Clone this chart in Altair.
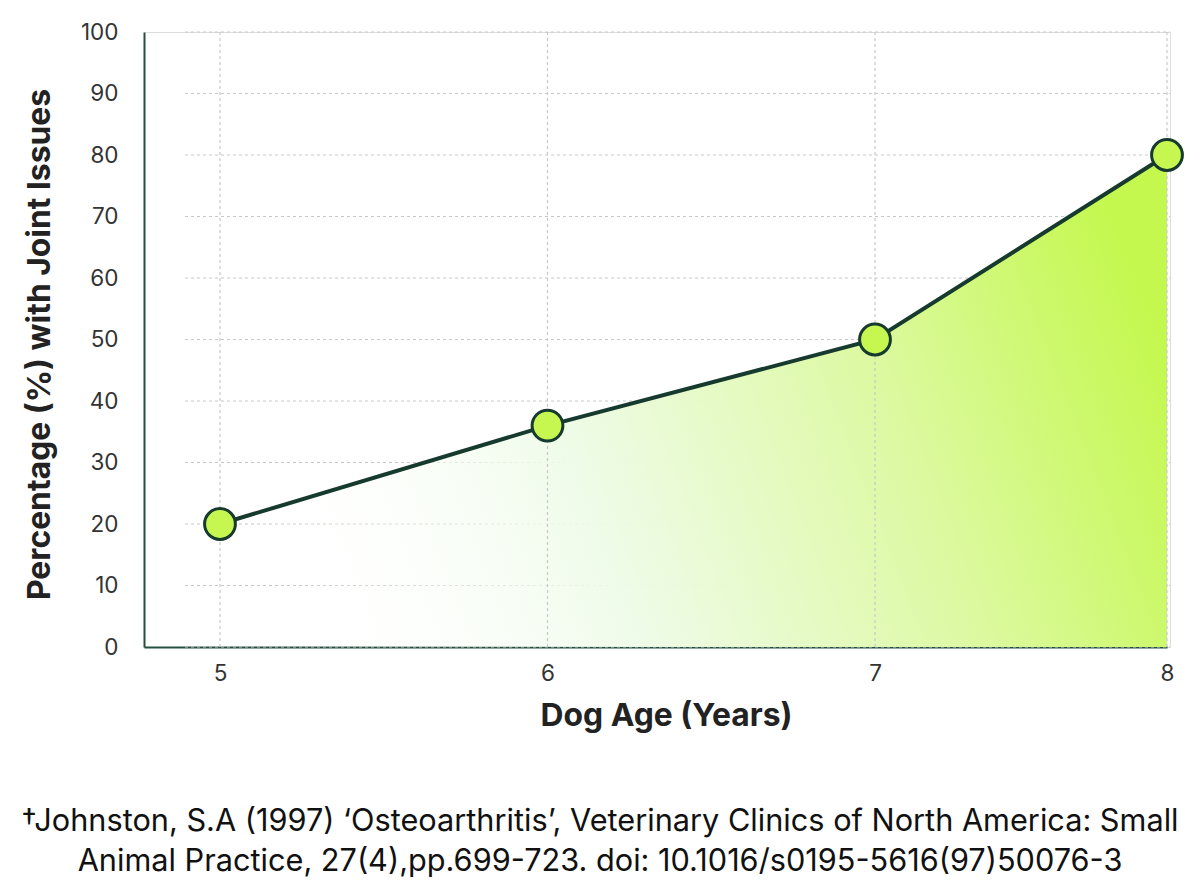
import altair as alt
import pandas as pd

ages = [5, 6, 7, 8]
pct = [20, 36, 50, 80]
y_ticks = [0, 10, 20, 30, 40, 50, 60, 70, 80, 90, 100]
footnote = [
    "\u2020Johnston, S.A (1997) \u2018Osteoarthritis\u2019, Veterinary Clinics of North America: Small",
    "Animal Practice, 27(4),pp.699-723. doi: 10.1016/s0195-5616(97)50076-3",
]

df = pd.DataFrame({"age": ages, "pct": pct})
grid_df = pd.DataFrame({"v": y_ticks})
vgrid_df = pd.DataFrame({"age": ages})

W, H = 1026, 615
FONT = "Inter"

xscale = alt.Scale(domain=[4.768, 7, 8], range=[0, 731, 1023], zero=False, nice=False)
yscale = alt.Scale(domain=[0, 100], nice=False, zero=True)

xaxis = alt.Axis(
    values=ages, format="d", grid=False, ticks=False, domain=True, domainColor="#24503f",
    domainWidth=2, labelFont=FONT, labelFontSize=22.5, labelColor="#333333",
    labelPadding=15, title="Dog Age (Years)", titleFont=FONT, titleFontSize=31.8,
    titleFontWeight="bold", titleColor="#222222", titlePadding=16, labelFlush=False,
    titleX=522,
)
yaxis = alt.Axis(
    values=y_ticks, grid=False, ticks=False, domain=True, domainColor="#24503f",
    domainWidth=2, labelFont=FONT, labelFontSize=22.5, labelColor="#333333",
    labelPadding=26, title="Percentage (%) with Joint Issues", titleFont=FONT,
    titleFontSize=31.8, titleFontWeight="bold", titleColor="#222222", titlePadding=24,
    titleY=312,
)

hgrid = alt.Chart(grid_df).mark_rule(color="#c8c8c8", strokeWidth=1.2, strokeDash=[3, 3]).encode(
    y=alt.Y("v:Q", scale=yscale, axis=yaxis),
    x=alt.value(41),
    x2=alt.value(W),
)

area = alt.Chart(df).mark_area(
    line=False,
    color=alt.Gradient(
        gradient="linear",
        stops=[
            alt.GradientStop(color="rgba(255,255,255,0)", offset=0),
            alt.GradientStop(color="rgba(238,251,232,0.95)", offset=0.35),
            alt.GradientStop(color="#dcf9a0", offset=0.7),
            alt.GradientStop(color="#c4f84e", offset=1),
        ],
        x1=0, x2=1, y1=0.6, y2=0.4,
    ),
).encode(
    x=alt.X("age:Q", scale=xscale, axis=xaxis),
    y=alt.Y("pct:Q", scale=yscale),
)

vgrid = alt.Chart(vgrid_df).mark_rule(color="#c8c8c8", strokeWidth=1.2, strokeDash=[3, 3]).encode(
    x=alt.X("age:Q", scale=xscale),
    y=alt.value(0),
    y2=alt.value(H),
)

line = alt.Chart(df).mark_line(color="#163a2d", strokeWidth=4).encode(
    x=alt.X("age:Q", scale=xscale),
    y=alt.Y("pct:Q", scale=yscale),
)

points = alt.Chart(df).mark_point(
    filled=True, fill="#c6f751", stroke="#163a2d", strokeWidth=3, size=950, opacity=1, shape="circle"
).encode(
    x=alt.X("age:Q", scale=xscale),
    y=alt.Y("pct:Q", scale=yscale),
)

chart = alt.layer(hgrid, area, vgrid, line, points).properties(
    width=W,
    height=H,
    autosize=alt.AutoSizeParams(type="none"),
    padding={"left": 136, "top": 24, "right": 20, "bottom": 230},
    title=alt.TitleParams(
        text=footnote, orient="bottom", anchor="middle", font=FONT, fontSize=30.7,
        fontWeight="normal", color="#111111", lineHeight=40, offset=75, dx=-57,
    ),
).configure_view(stroke=None).configure(background="white")

chart.save("out.html", embed_options={"renderer": "svg", "actions": False})
